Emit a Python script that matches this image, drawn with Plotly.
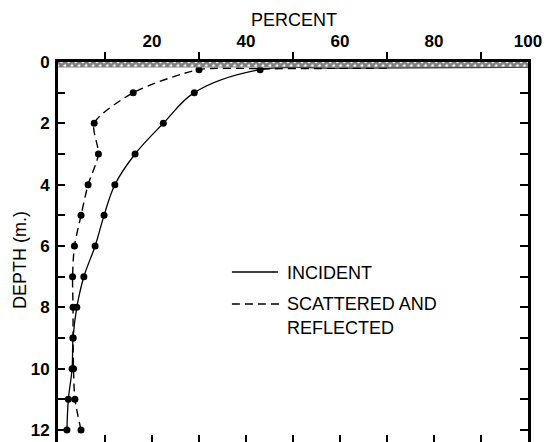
import plotly.graph_objects as go

# Measured light profile with depth
depth_m = [0.25, 1, 2, 3, 4, 5, 6, 7, 8, 9, 10, 11, 12]
incident_pct = [43, 29, 22.4, 16.4, 12.1, 9.8, 7.9, 5.5, 4.0, 3.2, 3.0, 2.2, 1.9]
scattered_pct = [30, 16, 7.7, 8.6, 6.4, 4.9, 3.5, 3.1, 3.2, 3.2, 3.3, 3.6, 4.9]

# Curves running into the surface layer
incident_surface_pct = [100, 60]
incident_surface_depth = [0.17, 0.2]
scattered_surface_pct = [70, 45]
scattered_surface_depth = [0.2, 0.22]

# Hatched surface layer
surface_layer_pct = [0, 100, 100, 0, 0]
surface_layer_depth = [0, 0, 0.18, 0.18, 0]

top_label_vals = [20, 40, 60, 80, 100]
top_tick_vals = [10, 30, 50, 70, 90]
depth_tick_vals = list(range(0, 13))
depth_tick_text = [str(v) if v % 2 == 0 else "" for v in depth_tick_vals]

X_RANGE = [0, 100]
Y_RANGE = [12.39, 0]

W, H = 560, 442
M_TOP = 52            # paper top (a 10 px strip above the plot holds the top marks)
PLOT_TOP_PX = 62      # top edge of the depth plot
PAPER_H = H - M_TOP
MAIN_TOP = (H - PLOT_TOP_PX) / PAPER_H


def paper_y(px):
    """Vertical pixel position -> paper fraction."""
    return (H - px) / PAPER_H


fig = go.Figure()

fig.add_trace(go.Scatter(
    x=surface_layer_pct, y=surface_layer_depth, mode="lines", xaxis="x3",
    line=dict(width=0), fill="toself", fillcolor="rgba(255,255,255,0)",
    fillpattern=dict(shape="x", size=5, solidity=0.8, fgcolor="black", bgcolor="white"),
    hoverinfo="skip", showlegend=False))

# Short upward marks above the top axis, in their own thin strip
tick_x, tick_y = [], []
for v in top_tick_vals:
    tick_x += [v, v, None]
    tick_y += [0, 1, None]
fig.add_trace(go.Scatter(
    x=tick_x, y=tick_y, mode="lines", yaxis="y3",
    line=dict(color="black", width=2), hoverinfo="skip", showlegend=False))

# Smooth curves (surface section joined to the measured points)
fig.add_trace(go.Scatter(
    x=incident_surface_pct + incident_pct, y=incident_surface_depth + depth_m,
    mode="lines", yaxis="y2",
    line=dict(color="black", width=1.3, shape="spline", smoothing=1.0),
    hoverinfo="skip", showlegend=False))
fig.add_trace(go.Scatter(
    x=scattered_surface_pct + scattered_pct, y=scattered_surface_depth + depth_m,
    mode="lines", xaxis="x2",
    line=dict(color="black", width=1.4, dash="8px,5px", shape="spline", smoothing=0.7),
    hoverinfo="skip", showlegend=False))

# Measured points
fig.add_trace(go.Scatter(
    x=incident_pct, y=depth_m, mode="markers",
    marker=dict(color="black", size=7), name="INCIDENT", showlegend=False))
fig.add_trace(go.Scatter(
    x=scattered_pct, y=depth_m, mode="markers",
    marker=dict(color="black", size=7), name="SCATTERED AND REFLECTED", showlegend=False))

tick_font = dict(family="Liberation Sans, Arial, sans-serif", size=17, color="black", weight="bold")
text_font = dict(family="Liberation Sans, Arial, sans-serif", size=18, color="black")

fig.update_layout(
    width=W, height=H,
    margin=dict(l=58, r=32, t=M_TOP, b=0),
    paper_bgcolor="white", plot_bgcolor="white",
    xaxis=dict(
        range=X_RANGE, side="top", anchor="y", showgrid=False, zeroline=False,
        showline=True, linewidth=3, linecolor="black",
        showticklabels=False, ticks="",
    ),
    # bottom axis: inside marks only
    xaxis2=dict(
        range=X_RANGE, matches="x", overlaying="x", side="bottom", anchor="y",
        showgrid=False, zeroline=False, showline=False, showticklabels=False,
        dtick=10, tick0=0, ticks="inside", ticklen=7, tickwidth=2, tickcolor="black",
    ),
    # top axis numbers at the even tens
    xaxis3=dict(
        range=X_RANGE, overlaying="x", side="top", anchor="y",
        showgrid=False, zeroline=False, showline=False,
        tickmode="array", tickvals=top_label_vals, ticks="",
        ticklabelstandoff=11, tickfont=tick_font,
    ),
    yaxis=dict(
        range=Y_RANGE, domain=[0, MAIN_TOP], anchor="x",
        showgrid=False, zeroline=False,
        showline=True, linewidth=3, linecolor="black",
        tickmode="array", tickvals=depth_tick_vals, ticktext=depth_tick_text,
        ticks="inside", ticklen=7, tickwidth=2, tickcolor="black",
        tickfont=tick_font, ticklabelstandoff=2,
    ),
    yaxis2=dict(
        range=Y_RANGE, matches="y", overlaying="y", side="right", anchor="x",
        showgrid=False, zeroline=False, showline=True, linewidth=2.5, linecolor="black",
        showticklabels=False, dtick=1, tick0=0,
        ticks="inside", ticklen=8, tickwidth=2, tickcolor="black",
    ),
    # thin strip above the plot for the top marks
    yaxis3=dict(
        range=[0, 1], domain=[MAIN_TOP, 1], anchor="x", visible=False,
    ),
    showlegend=False,
)

# Axis titles
fig.add_annotation(text="PERCENT", xref="paper", yref="paper", x=0.502, y=paper_y(20),
                   xanchor="center", yanchor="middle", showarrow=False, font=text_font)
fig.add_annotation(text="DEPTH (m.)", xref="paper", yref="paper", x=-0.081, y=paper_y(260),
                   xanchor="center", yanchor="middle", textangle=-90, showarrow=False,
                   font=text_font)

# Key drawn inside the plot area
fig.add_shape(type="line", xref="paper", yref="paper", x0=0.370, x1=0.468,
              y0=paper_y(272), y1=paper_y(272), line=dict(color="black", width=1.3))
fig.add_shape(type="line", xref="paper", yref="paper", x0=0.370, x1=0.480,
              y0=paper_y(304), y1=paper_y(304),
              line=dict(color="black", width=1.4, dash="8px,5px"))
for txt, py in [("INCIDENT", 273), ("SCATTERED AND", 304), ("REFLECTED", 328)]:
    fig.add_annotation(text=txt, xref="paper", yref="paper", x=0.482, y=paper_y(py),
                       xanchor="left", yanchor="middle", showarrow=False, font=text_font)

fig.write_html("out.html")
